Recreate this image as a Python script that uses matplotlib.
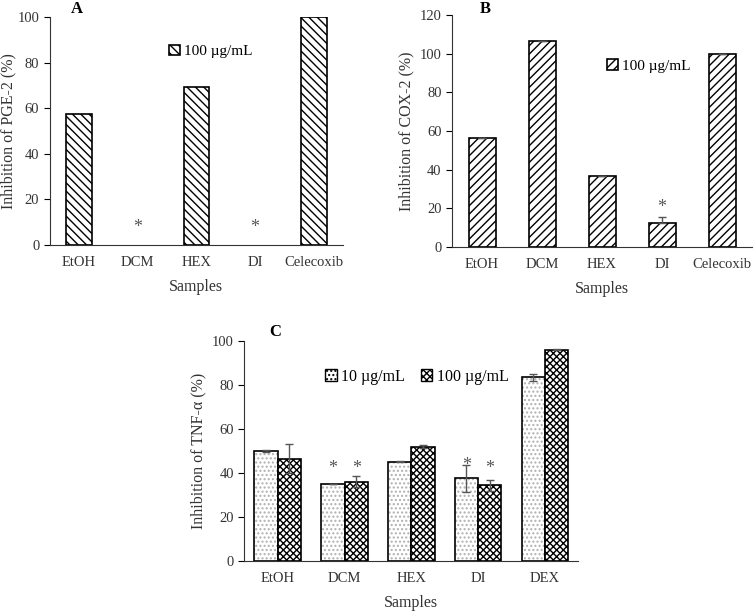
import numpy as np
import matplotlib.pyplot as plt
from matplotlib.patches import Patch

plt.rcParams['font.family'] = ['Liberation Serif', 'DejaVu Serif']
plt.rcParams['hatch.linewidth'] = 1.0

# panel A - PGE-2
samples_a = ['EtOH', 'DCM', 'HEX', 'DI', 'Celecoxib']
pge2 = [57.5, 0, 69.5, 0, 100]
star_a = [None, 7.5, None, 7.5, None]

# panel B - COX-2
samples_b = ['EtOH', 'DCM', 'HEX', 'DI', 'Celecoxib']
cox2 = [56.5, 106.5, 36.5, 12.5, 100]
cox2_err = [0, 0, 0, 3, 0]
star_b = [None, None, None, 20.5, None]

# panel C - TNF-a
samples_c = ['EtOH', 'DCM', 'HEX', 'DI', 'DEX']
tnf_10 = [50, 35, 45, 37.5, 83.5]
tnf_10_err = [0.4, 0, 0.2, 6.2, 1.5]
tnf_100 = [46.5, 36, 52, 34.5, 96]
tnf_100_err = [6.5, 2.6, 0.5, 2.5, 0.3]
star_c10 = [None, 42, None, 43.5, None]
star_c100 = [None, 42, None, 42, None]

fig = plt.figure(figsize=(7.54, 6.11), dpi=100)
axA = fig.add_axes([0.066, 0.599, 0.389, 0.373])
axB = fig.add_axes([0.5995, 0.596, 0.398, 0.379])
axC = fig.add_axes([0.324, 0.082, 0.443, 0.360])

fs = 10.5
gray = '#555555'
txt = '#333333'

def style(ax, labels, ylab, ymax, step, ypad=4):
    for s in ['top', 'right']:
        ax.spines[s].set_visible(False)
    ax.spines['left'].set_color(txt)
    ax.spines['bottom'].set_color(txt)
    ax.set_xlim(-0.5, 4.5)
    ax.set_ylim(0, ymax)
    ax.set_yticks(np.arange(0, ymax + 1, step))
    ax.set_xticks(range(len(labels)))
    ax.set_xticklabels(labels, fontsize=fs, color=txt)
    ax.tick_params(axis='x', length=0, pad=8)
    ax.tick_params(axis='y', labelsize=fs, labelcolor=txt, length=4, direction='out')
    ax.set_xlabel('Samples', fontsize=fs + 1, color=txt, labelpad=7)
    ax.set_ylabel(ylab, fontsize=fs + 1, color=txt, labelpad=ypad)

x = np.arange(5)

# A
edges_a = ['black' if v > 0 else 'none' for v in pge2]
axA.bar(x, pge2, 0.44, color='white', edgecolor=edges_a, hatch='\\\\\\\\', linewidth=1.2,
        label='100 µg/mL')
for i, s in enumerate(star_a):
    if s is not None:
        axA.text(i, s, '*', ha='center', va='center', fontsize=13, color=gray)
style(axA, samples_a, 'Inhibition of PGE-2 (%)', 100, 20, ypad=1)
axA.legend(loc='upper left', bbox_to_anchor=(0.36, 0.94), frameon=False, fontsize=fs + 0.5,
           handlelength=0.7, handleheight=0.7, handletextpad=0.3)
fig.text(0.102, 0.985, 'A', fontsize=12, fontweight='bold', ha='center', va='center')

# B
axB.bar(x, cox2, 0.45, color='white', edgecolor='black', hatch='////', linewidth=1.2,
        label='100 µg/mL')
axB.errorbar(x, cox2, yerr=[np.zeros(5), cox2_err], fmt='none', ecolor=gray,
             elinewidth=1, capsize=3)
for i, s in enumerate(star_b):
    if s is not None:
        axB.text(i, s, '*', ha='center', va='center', fontsize=13, color=gray)
style(axB, samples_b, 'Inhibition of COX-2 (%)', 120, 20)
axB.legend(loc='upper left', bbox_to_anchor=(0.47, 0.87), frameon=False, fontsize=fs + 0.5,
           handlelength=0.7, handleheight=0.7, handletextpad=0.3)
fig.text(0.643, 0.985, 'B', fontsize=12, fontweight='bold', ha='center', va='center')

# C
w = 0.35
axC.bar(x - w / 2, tnf_10, w, color='white', edgecolor='#b0b0b0', hatch='....', linewidth=0)
axC.bar(x - w / 2, tnf_10, w, fill=False, edgecolor='black', linewidth=1.2)
axC.bar(x + w / 2, tnf_100, w, color='white', edgecolor='black', hatch='xxxxx', linewidth=1.2)
axC.errorbar(x - w / 2, tnf_10, yerr=tnf_10_err, fmt='none', ecolor=gray, elinewidth=1, capsize=3)
axC.errorbar(x + w / 2, tnf_100, yerr=tnf_100_err, fmt='none', ecolor=gray, elinewidth=1, capsize=3)
for i in range(5):
    if star_c10[i] is not None:
        axC.text(i - w / 2, star_c10[i], '*', ha='center', va='center', fontsize=13, color=gray)
    if star_c100[i] is not None:
        axC.text(i + w / 2, star_c100[i], '*', ha='center', va='center', fontsize=13, color=gray)
style(axC, samples_c, 'Inhibition of TNF-α (%)', 100, 20)
h1 = Patch(facecolor='white', edgecolor='black', hatch='....')
h2 = Patch(facecolor='white', edgecolor='black', hatch='xxxxx')
axC.legend([h1, h2], ['10 µg/mL', '100 µg/mL'], loc='upper left', bbox_to_anchor=(0.2, 0.94),
           ncol=2, frameon=False, fontsize=11.5, handlelength=0.7, handleheight=0.7,
           handletextpad=0.3, columnspacing=1.0)
fig.text(0.365, 0.457, 'C', fontsize=12, fontweight='bold', ha='center', va='center')

plt.savefig('out.png', dpi=100)
